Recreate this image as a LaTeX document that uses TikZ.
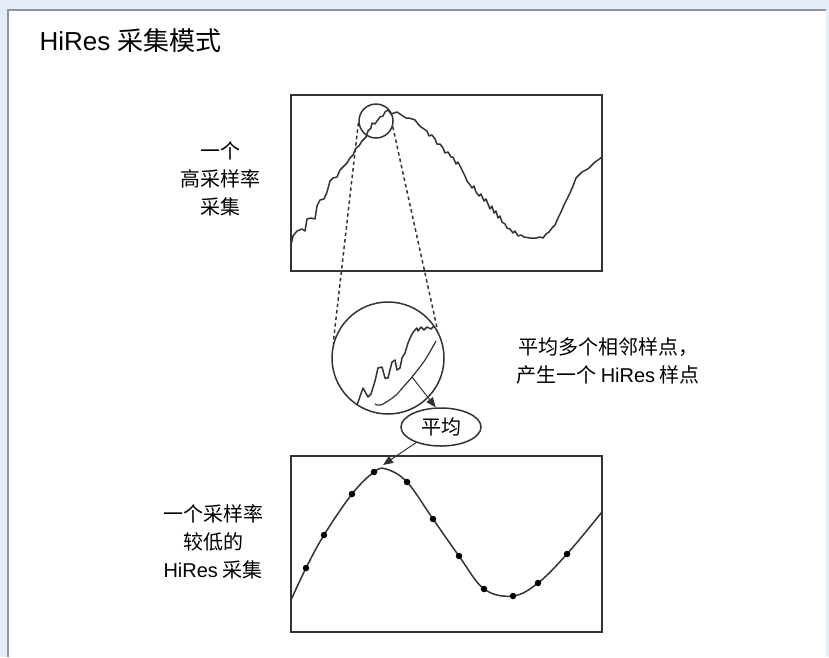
\documentclass[tikz,border=0pt]{standalone}
\usepackage{fontspec}
\setmainfont{Liberation Sans}
\newfontfamily\cjk{Noto Sans CJK SC}
\usetikzlibrary{arrows.meta,shapes.geometric}
\definecolor{bgblue}{HTML}{E4EDF7}
\definecolor{frame}{HTML}{8E979F}
\definecolor{ink}{HTML}{333333}
\tikzset{
  plotbox/.style={draw=ink, line width=2pt, minimum width=311pt, minimum height=176pt, inner sep=0pt},
  trace/.style={draw=ink, line width=1.5pt, line join=round},
  lens/.style={circle, draw=ink, line width=1.5pt, inner sep=0pt},
  zoomline/.style={draw=ink, line width=1.5pt, dash pattern=on 3.5pt off 3pt},
  pointer/.style={draw=ink, line width=1pt, -{Triangle[length=10pt,width=8pt]}},
  lbl/.style={font=\fontsize{20}{28}\selectfont\cjk, align=center, text=black},
  sample/.style={circle, fill=black, inner sep=0pt, minimum size=6.5pt}
}
\begin{document}
\begin{tikzpicture}[x=1pt,y=-1pt]
\useasboundingbox (0,0) rectangle (829,657);
\fill[bgblue] (0,0) rectangle (829,657);
\fill[white] (8,10) rectangle (826,657);
\draw[frame, line width=2pt] (8,657) -- (8,10) -- (826,10);

\node[anchor=base west, font=\fontsize{26}{30}\selectfont] (title) at (36,50) {HiRes {\cjk 采集模式}};

% top plot
\node[plotbox] (top) at (446.5,183) {};
\draw[trace] plot coordinates {(291,245) (293,236) (297,231) (302,229) (305,231) (307,219) (311,218) (315,219) (317,206) (320,200) (324,199) (327,192) (330,181) (333,178) (337,177) (340,170) (343,167) (347,163) (350,158) (353,155) (356,148) (359,146) (362,141) (366,137) (368,131) (371,128) (372,123) (375,124) (377,121) (380,117) (383,116) (385,112) (388,110) (391,114) (394,113) (397,112) (400,114) (403,116) (406,118) (409,118) (412,119) (415,120) (418,124) (421,127) (424,129) (427,131) (429,136) (432,135) (435,139) (437,144) (440,144) (443,148) (445,153) (448,152) (451,157) (453,157) (456,164) (458,162) (461,168) (463,172) (465,176) (467,181) (470,185) (472,188) (474,186) (476,192) (479,196) (481,194) (484,201) (486,199) (488,204) (490,209) (492,206) (494,213) (496,211) (498,218) (500,216) (502,222) (505,224) (507,228) (510,229) (513,233) (515,231) (518,236) (521,235) (524,237) (530,238) (536,238) (540,237) (543,238) (546,234) (549,232) (552,228) (555,225) (558,218) (561,212) (564,205) (567,199) (570,193) (573,186) (576,178) (579,175) (582,172) (586,170) (589,168) (592,165) (595,162) (598,160) (602,157)};

\node[lbl] (toplbl) at (220,179) {一个\\高采样率\\采集};

% lens
\node[lens, minimum size=34pt] (zc) at (376,121) {};
\node[lens, minimum size=112pt] (mag) at (388,358) {};
\draw[zoomline] (zc.186) -- (mag.165);
\draw[zoomline] (zc.341) -- (mag.29);

% magnified trace
\draw[trace] plot coordinates {(357,405) (363,388) (368,397) (371,394) (375,381) (378,368) (382,367) (385,378) (388,378) (392,362) (395,360) (397,370) (400,368) (402,358) (405,353) (408,343) (411,336) (414,331) (417,328) (418,331) (421,327) (424,330) (427,327) (431,329) (434,326)};
\draw[trace, line width=1.2pt] plot[smooth, tension=0.5] coordinates {(375,404) (381,405) (395,396) (405,385) (412,377) (425,360) (436,341)};
\coordinate (avgpt) at (412,377);

\node[ellipse, draw=ink, line width=1.5pt, minimum width=80pt, minimum height=38pt, inner sep=0pt, font=\fontsize{20}{24}\selectfont\cjk] (avg) at (441,427) {平均};
\draw[pointer] (avgpt) -- (avg.105);

\node[lbl] (rightlbl) at (608,361) {平均多个相邻样点，\\产生一个 {\rmfamily HiRes} 样点};

% bottom plot
\node[plotbox] (bot) at (446.5,544) {};
\draw[trace] plot[smooth, tension=0.6] coordinates {(291,600) (306,568) (324,535) (352,494) (374,472) (386,469) (407,482) (433,519) (459,556) (484,589) (513,596) (538,583) (567,554) (602,512)};
\foreach \p/\q in {306/568,324/535,352/494,374/472,407/482,433/519,459/556,484/589,513/596,538/583,567/554}
  \node[sample] at (\p,\q) {};
\coordinate (peak) at (383,465);
\draw[pointer] (avg.212) -- (peak);

\node[lbl] (botlbl) at (213,542) {一个采样率\\较低的\\{\rmfamily HiRes} 采集};
\end{tikzpicture}
\end{document}
